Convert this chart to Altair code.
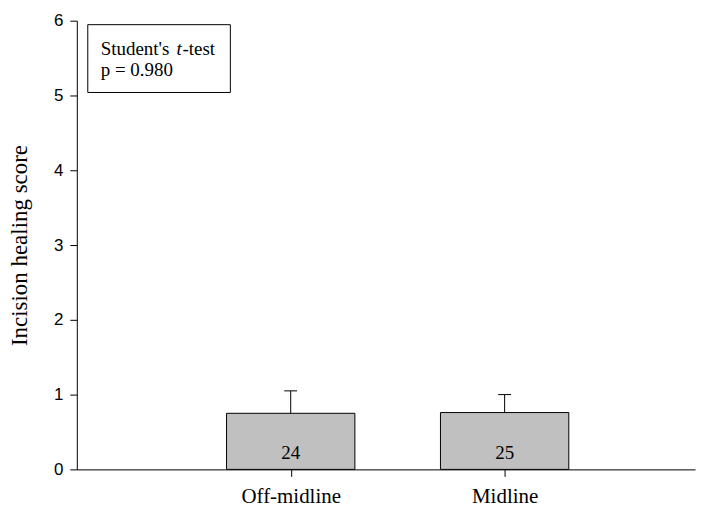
import altair as alt
import pandas as pd

categories = ["Off-midline", "Midline"]
positions = [1, 2]
means = [0.75, 0.76]
errors = [0.30, 0.24]
ns = ["24", "25"]
y_ticks = [0, 1, 2, 3, 4, 5, 6]

df = pd.DataFrame({
    "cat": categories,
    "pos": positions,
    "mean": means,
    "top": [m + e for m, e in zip(means, errors)],
    "n": ns,
})
df["x1"] = df["pos"] - 0.3
df["x2"] = df["pos"] + 0.3
df["c1"] = df["pos"] - 0.03
df["c2"] = df["pos"] + 0.03
df["nlab"] = 0.225

SERIF = "Liberation Serif"
SANS = "Liberation Sans"

xscale = alt.Scale(domain=[0, 2.89], nice=False, zero=False)
yscale = alt.Scale(domain=[0, 6], nice=False)

label_expr = "datum.value == 1 ? '" + categories[0] + "' : (datum.value == 2 ? '" + categories[1] + "' : '')"

base = alt.Chart(df)

bars = base.mark_bar(color="#c0c0c0", stroke="black", strokeWidth=1).encode(
    x=alt.X("x1:Q", scale=xscale,
            axis=alt.Axis(values=positions, labelExpr=label_expr, title=None, grid=False,
                          tickSize=7, tickColor="black", domainColor="black",
                          labelFont=SERIF, labelFontSize=21, labelColor="black",
                          labelPadding=9, labelFlush=False)),
    x2="x2:Q",
    y=alt.Y("mean:Q", scale=yscale,
            axis=alt.Axis(values=y_ticks, format="d", title="Incision healing score", grid=False,
                          tickSize=7, tickColor="black", domainColor="black",
                          labelFont=SANS, labelFontSize=17, labelColor="black",
                          labelPadding=7, titleFont=SERIF, titleFontSize=23,
                          titleFontWeight="normal", titleColor="black", titlePadding=22)),
    y2=alt.datum(0),
)

err = base.mark_rule(color="black", strokeWidth=1).encode(
    x="pos:Q", y="mean:Q", y2="top:Q"
)
cap = base.mark_rule(color="black", strokeWidth=1).encode(
    x="c1:Q", x2="c2:Q", y="top:Q"
)
nlab = base.mark_text(font=SERIF, fontSize=19, color="black", baseline="middle").encode(
    x="pos:Q", y="nlab:Q", text="n:N"
)

box = alt.Chart(pd.DataFrame({"a": [0]})).mark_rect(fill="white", stroke="black", strokeWidth=1).encode(
    x=alt.value(11), x2=alt.value(154), y=alt.value(4), y2=alt.value(72)
)
t1 = alt.Chart(pd.DataFrame({"t": ["Student's"]})).mark_text(
    font=SERIF, fontSize=19, align="left", baseline="alphabetic", color="black").encode(
    x=alt.value(24), y=alt.value(34), text="t:N")
t2 = alt.Chart(pd.DataFrame({"t": ["t"]})).mark_text(
    font=SERIF, fontSize=19, fontStyle="italic", align="left", baseline="alphabetic", color="black").encode(
    x=alt.value(100), y=alt.value(34), text="t:N")
t3 = alt.Chart(pd.DataFrame({"t": ["-test"]})).mark_text(
    font=SERIF, fontSize=19, align="left", baseline="alphabetic", color="black").encode(
    x=alt.value(106), y=alt.value(34), text="t:N")
t4 = alt.Chart(pd.DataFrame({"t": ["p = 0.980"]})).mark_text(
    font=SERIF, fontSize=19, align="left", baseline="alphabetic", color="black").encode(
    x=alt.value(24), y=alt.value(55), text="t:N")

chart = alt.layer(bars, err, cap, nlab, box, t1, t2, t3, t4).properties(
    width=620, height=450,
    autosize=alt.AutoSizeParams(type="none"),
    padding={"left": 69, "top": 12, "right": 5, "bottom": 40},
).configure_view(stroke=None).configure_axis(domainWidth=1, tickWidth=1)

chart.save("out.html", embed_options={"renderer": "svg", "actions": False})
